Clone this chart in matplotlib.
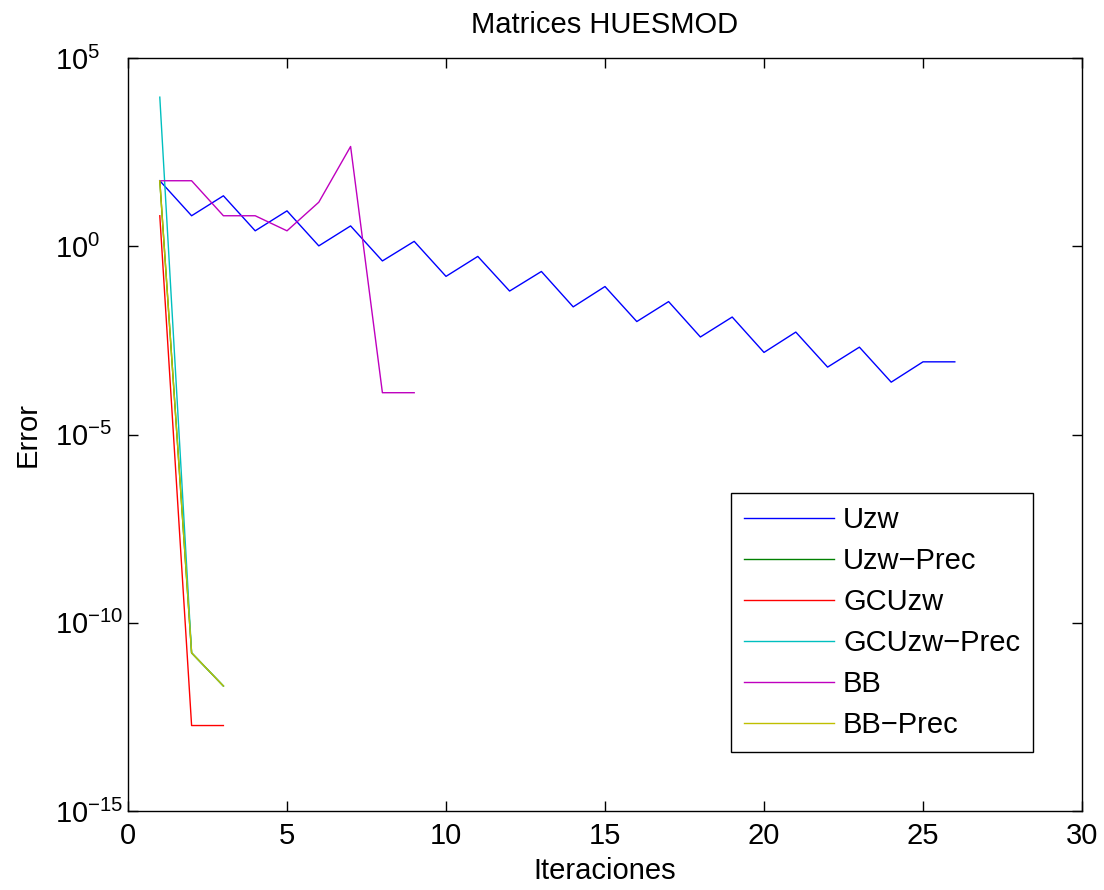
import numpy as np
import matplotlib
matplotlib.use("Agg")
import matplotlib.pyplot as plt
from matplotlib.ticker import NullLocator, FixedLocator

plt.rcParams['font.family'] = ['Liberation Sans', 'DejaVu Sans']

# log10 of error
uzw_log = [1.74, 0.81, 1.34, 0.41, 0.94, 0.01, 0.54, -0.39, 0.13, -0.80,
           -0.27, -1.19, -0.67, -1.61, -1.07, -2.00, -1.47, -2.41, -1.88, -2.82,
           -2.28, -3.21, -2.68, -3.61, -3.07, -3.07]
uzw_prec_log = [1.74, -10.80, -11.68]
gcuzw_log = [0.81, -12.73, -12.73]
gcuzw_prec_log = [3.96, -10.80, -11.68]
bb_log = [1.74, 1.74, 0.81, 0.81, 0.41, 1.17, 2.65, -3.89, -3.89]
bb_prec_log = [1.74, -10.80, -11.68]

series = [
    ("Uzw", uzw_log, (0, 0, 1)),
    ("Uzw\u2212Prec", uzw_prec_log, (0, 0.5, 0)),
    ("GCUzw", gcuzw_log, (1, 0, 0)),
    ("GCUzw\u2212Prec", gcuzw_prec_log, (0, 0.75, 0.75)),
    ("BB", bb_log, (0.75, 0, 0.75)),
    ("BB\u2212Prec", bb_prec_log, (0.75, 0.75, 0)),
]

fig = plt.figure(figsize=(11.04, 8.9), dpi=100)
ax = fig.add_axes([128 / 1104, 1 - 811 / 890, (1082 - 128) / 1104, (811 - 58) / 890])

for name, vals, col in series:
    x = np.arange(1, len(vals) + 1)
    ax.semilogy(x, 10.0 ** np.array(vals), color=col, lw=1.0, label=name)

ax.set_xlim(0, 30)
ax.set_ylim(1e-15, 1e5)
ax.set_xticks([0, 5, 10, 15, 20, 25, 30])
ax.yaxis.set_major_locator(FixedLocator([1e-15, 1e-10, 1e-5, 1e0, 1e5]))
ax.yaxis.set_minor_locator(NullLocator())
ax.tick_params(direction='in', top=True, right=True, length=7.2, width=1,
               labelsize=21)
ax.tick_params(axis='x', pad=8)
ax.tick_params(axis='y', pad=52.5)
plt.setp(ax.get_yticklabels(), ha='left')
for s in ax.spines.values():
    s.set_linewidth(1.0)

ax.set_title("Matrices HUESMOD", fontsize=21, pad=18)
ax.set_xlabel("Iteraciones", fontsize=21, labelpad=5)
ax.set_ylabel("Error", fontsize=21, labelpad=10)

leg = ax.legend(loc='lower right', bbox_to_anchor=(0.9486, 0.0784), borderaxespad=0,
                fontsize=21, handlelength=3.08, handletextpad=0.32, labelspacing=0.445,
                borderpad=0.44, fancybox=False, framealpha=1, edgecolor='black')
leg.get_frame().set_linewidth(1.0)

fig.savefig("out.png", dpi=100)
